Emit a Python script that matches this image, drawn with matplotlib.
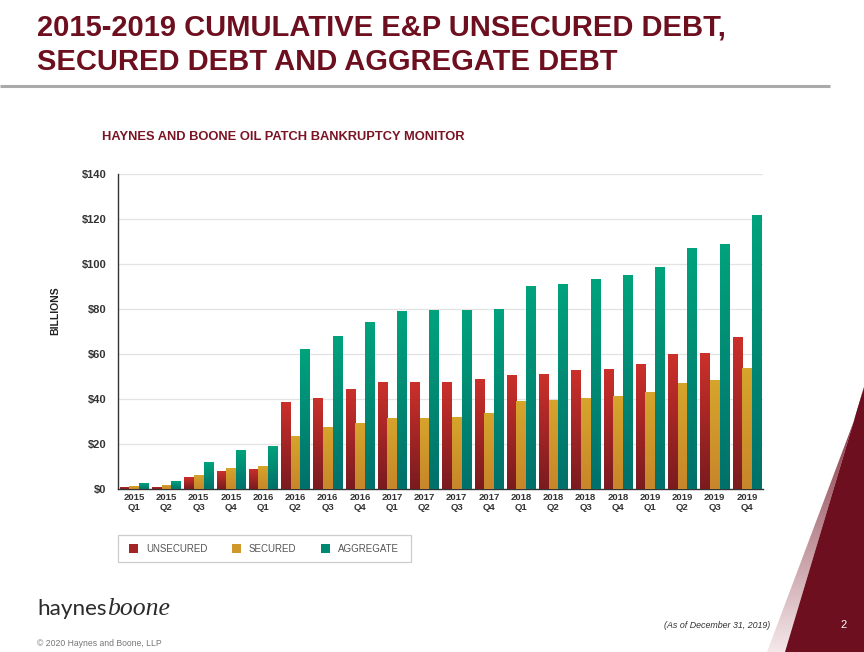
import numpy as np
import matplotlib
matplotlib.use("Agg")
import matplotlib.pyplot as plt
from matplotlib.colors import LinearSegmentedColormap
from matplotlib.patches import Polygon, Rectangle, Patch

# ---------------- data ----------------
years = ["2015"] * 4 + ["2016"] * 4 + ["2017"] * 4 + ["2018"] * 4 + ["2019"] * 4
quarters = ["Q1", "Q2", "Q3", "Q4"] * 5
unsecured = [0.9, 0.9, 5.3, 7.9, 8.9, 38.7, 40.6, 44.4, 47.4, 47.4, 47.5, 48.9,
             50.8, 51.1, 52.9, 53.5, 55.6, 59.9, 60.4, 67.7]
secured = [1.3, 1.9, 6.4, 9.3, 10.1, 23.6, 27.4, 29.5, 31.7, 31.7, 31.8, 33.8,
           39.3, 39.6, 40.3, 41.3, 43.1, 47.0, 48.4, 53.9]
aggregate = [2.5, 3.5, 12.0, 17.2, 19.3, 62.1, 68.1, 74.2, 79.1, 79.4, 79.5, 80.0,
             90.2, 91.0, 93.2, 95.1, 98.7, 107.1, 109.0, 121.8]
series_names = ["UNSECURED", "SECURED", "AGGREGATE"]
yticks = [0, 20, 40, 60, 80, 100, 120, 140]

# ---------------- style ----------------
W, H = 864, 652
DARK_RED = "#6d0f1e"
grad = {
    "UNSECURED": ("#7a1b1f", "#cc302b"),
    "SECURED": ("#c8862a", "#d6a52c"),
    "AGGREGATE": ("#00706a", "#00a37d"),
}
solid = {"UNSECURED": "#a32526", "SECURED": "#cf982b", "AGGREGATE": "#008a74"}

plt.rcParams["font.family"] = ["Liberation Sans", "DejaVu Sans"]

fig = plt.figure(figsize=(W / 100, H / 100), dpi=100)

# background axes in pixel coordinates for decorations
bg = fig.add_axes([0, 0, 1, 1], zorder=-5)
bg.axis("off")

# decorative triangle and gradient band
band = Polygon([(864, 387), (858, 410), (767, 652), (785, 652)], closed=True,
               facecolor="none", edgecolor="none")
bg.add_patch(band)
band_grad = np.linspace(0, 1, 256).reshape(-1, 1)
band_cmap = LinearSegmentedColormap.from_list("band", ["#7a2030", "#f4e8ea"])
im = bg.imshow(band_grad, cmap=band_cmap, extent=[760, 864, 652, 387],
               aspect="auto", interpolation="bicubic")
im.set_clip_path(band)
bg.add_patch(Polygon([(864, 387), (864, 652), (785, 652)], closed=True,
                     facecolor=DARK_RED, edgecolor="none"))

# title rule
bg.plot([0, 830], [86, 86], color="#aaaaaa", lw=2.2, solid_capstyle="butt")
# legend box
bg.add_patch(Rectangle((118, 535), 293, 27, facecolor="white",
                       edgecolor="#cccccc", lw=0.9))
bg.set_xlim(0, W)
bg.set_ylim(H, 0)

# titles
fig.text(37 / W, 1 - 36 / H, "2015-2019 CUMULATIVE E&P UNSECURED DEBT,",
         fontsize=21, fontweight="bold", color=DARK_RED, ha="left", va="baseline")
fig.text(37 / W, 1 - 70.5 / H, "SECURED DEBT AND AGGREGATE DEBT",
         fontsize=21, fontweight="bold", color=DARK_RED, ha="left", va="baseline")
fig.text(283 / W, 1 - 137 / H, "HAYNES AND BOONE OIL PATCH BANKRUPTCY MONITOR",
         fontsize=9.3, fontweight="bold", color="#7a1424", ha="center", va="center")

# ---------------- chart ----------------
ax = fig.add_axes([118 / W, 1 - 489 / H, 645 / W, 315 / H])
x = np.arange(len(years))
bw = 0.3
offsets = [-bw, 0, bw]
all_series = [unsecured, secured, aggregate]
for name, vals, off in zip(series_names, all_series, offsets):
    bars = ax.bar(x + off, vals, width=bw * 0.97, color=solid[name], zorder=2,
                  linewidth=0)
    cmap = LinearSegmentedColormap.from_list(name, list(grad[name]))
    g = np.linspace(0, 1, 128).reshape(-1, 1)
    for b in bars:
        x0, y0 = b.get_x(), b.get_y()
        w, h = b.get_width(), b.get_height()
        img = ax.imshow(g, cmap=cmap, origin="lower",
                        extent=[x0, x0 + w, y0, y0 + max(h, 1e-6)],
                        aspect="auto", zorder=3, interpolation="bicubic")
        img.set_clip_path(b)

ax.set_xlim(-0.5, len(years) - 0.5)
ax.set_ylim(0, 140)
ax.set_yticks(yticks)
ax.set_yticklabels([f"${v}" for v in yticks], fontsize=8, fontweight="bold",
                   color="#333333")
ax.set_xticks(x)
ax.set_xticklabels([f"{yy}\n{q}" for yy, q in zip(years, quarters)],
                   fontsize=6.8, fontweight="bold", color="#333333",
                   linespacing=1.15)
ax.tick_params(axis="both", length=0)
ax.tick_params(axis="y", pad=8.5)
ax.tick_params(axis="x", pad=3)
ax.grid(axis="y", color="#e3e3e3", lw=0.9, zorder=0)
ax.set_axisbelow(True)
for s in ["top", "right"]:
    ax.spines[s].set_visible(False)
ax.spines["left"].set_color("#333333")
ax.spines["bottom"].set_color("#333333")
ax.spines["left"].set_linewidth(1.0)
ax.spines["bottom"].set_linewidth(1.0)
ax.set_ylabel("BILLIONS", fontsize=7.5, fontweight="bold", color="#222222")
ax.yaxis.set_label_coords(-(118 - 60) / 645, (489 - 311) / 315)

# legend (box drawn separately)
handles = [Patch(facecolor=solid[n], edgecolor="none") for n in series_names]
leg = fig.legend(handles, series_names, loc="center",
                 bbox_to_anchor=(264 / W, 1 - 549 / H), ncol=3,
                 frameon=False, fontsize=7, handlelength=0.95, handleheight=0.95,
                 columnspacing=2.5, handletextpad=0.8, borderpad=0.5,
                 labelcolor="#555555")

# footer logo
t1 = fig.text(37 / W, 1 - 615 / H, "haynes", fontsize=16.2, color="#2b2b2b",
              family=["Lato", "DejaVu Sans"], ha="left", va="baseline")
fig.canvas.draw()
bb = t1.get_window_extent(renderer=fig.canvas.get_renderer())
fig.text(bb.x1 / W + 0.5 / W, 1 - 615 / H, "boone", fontsize=18.5, color="#2b2b2b",
         family=["Liberation Serif", "DejaVu Serif"], style="italic",
         ha="left", va="baseline")
fig.text(37 / W, 1 - 644 / H, "\u00a9 2020 Haynes and Boone, LLP", fontsize=6.2,
         color="#777777", ha="left", va="center")
fig.text(770 / W, 1 - 625 / H, "(As of December 31, 2019)", fontsize=6.4,
         color="#333333", style="italic", ha="right", va="center")
fig.text(844 / W, 1 - 625 / H, "2", fontsize=8, color="white", ha="center",
         va="center")

fig.savefig("out.png", dpi=100)
